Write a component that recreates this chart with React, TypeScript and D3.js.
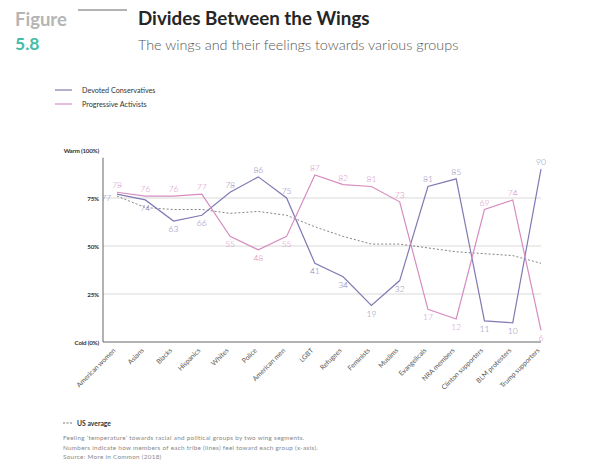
import { useEffect, useRef } from "react";
import * as d3 from "d3";

const groups = [
  "American women", "Asians", "Blacks", "Hispanics", "Whites", "Police",
  "American men", "LGBT", "Refugees", "Feminists", "Muslims", "Evangelicals",
  "NRA members", "Clinton supporters", "BLM protesters", "Trump supporters",
];
const conservatives = [77, 74, 63, 66, 78, 86, 75, 41, 34, 19, 32, 81, 85, 11, 10, 90];
const progressives = [78, 76, 76, 77, 55, 48, 55, 87, 82, 81, 73, 17, 12, 69, 74, 6];
const usAverage = [76, 70, 69, 69, 67, 68, 66, 60, 55, 51, 51, 49, 47, 46, 45, 41];
const yTicks = [0, 25, 50, 75, 100];
const yTickLabels = ["Cold (0%)", "25%", "50%", "75%", "Warm (100%)"];
const notes = [
  "Feeling ‘temperature’ towards racial and political groups by two wing segments.",
  "Numbers indicate how members of each tribe (lines) feel toward each group (x-axis).",
  "Source: More in Common (2018)",
];

const PURPLE = "#7f7ab3";
const PINK = "#d68cbf";
const FONT = "Lato, 'Open Sans', sans-serif";

export default function App() {
  const svgRef = useRef<SVGSVGElement>(null);

  useEffect(() => {
    if (!svgRef.current) return;
    const svg = d3.select(svgRef.current);
    svg.selectAll("*").remove();

    // header
    svg.append("text").attr("x", 15).attr("y", 26).attr("font-family", FONT)
      .attr("font-size", 18.5).attr("font-weight", 700).attr("fill", "#b5b5b5").text("Figure");
    svg.append("text").attr("x", 15).attr("y", 50).attr("font-family", FONT)
      .attr("font-size", 17.5).attr("font-weight", 700).attr("fill", "#45bca5").text("5.8");
    svg.append("line").attr("x1", 78).attr("x2", 127).attr("y1", 10).attr("y2", 10)
      .attr("stroke", "#666").attr("stroke-width", 1);
    svg.append("text").attr("x", 138).attr("y", 25).attr("font-family", FONT)
      .attr("font-size", 18.8).attr("font-weight", 700).attr("fill", "#262626")
      .text("Divides Between the Wings");
    svg.append("text").attr("x", 138).attr("y", 50).attr("font-family", FONT)
      .attr("font-size", 14.4).attr("font-weight", 300).attr("fill", "#555")
      .text("The wings and their feelings towards various groups");

    // legend
    [["Devoted Conservatives", PURPLE], ["Progressive Activists", PINK]].forEach(([t, c], i) => {
      const y = 90 + i * 14;
      svg.append("line").attr("x1", 55).attr("x2", 72).attr("y1", y).attr("y2", y)
        .attr("stroke", c).attr("stroke-width", 1.2);
      svg.append("text").attr("x", 82).attr("y", y + 2.5).attr("font-family", FONT)
        .attr("font-size", 7.2).attr("fill", "#333").text(t);
    });

    const x = d3.scalePoint<string>().domain(groups).range([117, 541]);
    const y = d3.scaleLinear().domain([0, 100]).range([342, 150]);
    const g = svg.append("g");

    // grid
    g.selectAll(".grid").data(yTicks.filter(d => d > 0 && d < 100)).enter().append("line")
      .attr("x1", 103).attr("x2", 541)
      .attr("y1", d => y(d)).attr("y2", d => y(d))
      .attr("stroke", "#cfcfcf").attr("stroke-width", 0.8);

    // axes
    g.append("line").attr("x1", 103).attr("x2", 103).attr("y1", y(96)).attr("y2", y(0))
      .attr("stroke", "#555").attr("stroke-width", 0.9);
    g.append("line").attr("x1", 103).attr("x2", 541).attr("y1", y(0)).attr("y2", y(0))
      .attr("stroke", "#555").attr("stroke-width", 0.9);

    g.selectAll(".ylab").data(yTicks).enter().append("text")
      .attr("x", 99).attr("y", d => y(d) + 2.5).attr("text-anchor", "end")
      .attr("font-family", FONT).attr("font-size", 6.2).attr("font-weight", 700)
      .attr("letter-spacing", -0.2).attr("fill", "#333")
      .text((_, i) => yTickLabels[i]);

    g.selectAll(".xlab").data(groups).enter().append("text")
      .attr("transform", d => `translate(${(x(d) ?? 0) - 1},${351}) rotate(-45)`)
      .attr("text-anchor", "end").attr("font-family", FONT).attr("font-size", 6.8)
      .attr("fill", "#555").text(d => d);

    // US average
    const line = d3.line<number>().x((_, i) => x(groups[i]) ?? 0).y(d => y(d));
    g.append("path").datum(usAverage).attr("d", line).attr("fill", "none")
      .attr("stroke", "#666").attr("stroke-width", 0.8).attr("stroke-dasharray", "2,2");

    // label sits on the outer side of the pair (above when higher, below when lower)
    const series: [number[], number[], string, string][] = [
      [conservatives, progressives, PURPLE, "#8a86b8"],
      [progressives, conservatives, PINK, "#d58fc0"],
    ];
    series.forEach(([vals, other, color, labelColor]) => {
      g.append("path").datum(vals).attr("d", line).attr("fill", "none")
        .attr("stroke", color).attr("stroke-width", 1.2);
      g.selectAll(null).data(vals).enter().append("text")
        .attr("x", (d, i) => {
          const px = x(groups[i]) ?? 0;
          return i === 0 && d < other[i] ? px - 6 : px;
        })
        .attr("y", (d, i) => {
          const py = y(d);
          if (i === 0 && d < other[i]) return py + 7;
          return d >= other[i] ? py - 4 : py + 11;
        })
        .attr("text-anchor", (d, i) => (i === 0 && d < other[i] ? "end" : "middle"))
        .attr("font-family", FONT).attr("font-size", 8.5).attr("font-weight", 300)
        .attr("fill", labelColor).text(d => d);
    });

    // footer
    svg.append("line").attr("x1", 63).attr("x2", 72).attr("y1", 423).attr("y2", 423)
      .attr("stroke", "#666").attr("stroke-width", 0.9).attr("stroke-dasharray", "2,1.5");
    svg.append("text").attr("x", 77).attr("y", 425.5).attr("font-family", FONT)
      .attr("font-size", 6.8).attr("font-weight", 700).attr("fill", "#333").text("US average");
    notes.forEach((t, i) => {
      svg.append("text").attr("x", 63).attr("y", 440 + i * 9.5).attr("font-family", FONT)
        .attr("font-size", 6.3).attr("letter-spacing", 0.3).attr("fill", "#888").text(t);
    });
  }, []);

  return (
    <svg ref={svgRef} width={590} height={476}
      style={{ position: "absolute", left: 0, top: 0, background: "#fff" }} />
  );
}
